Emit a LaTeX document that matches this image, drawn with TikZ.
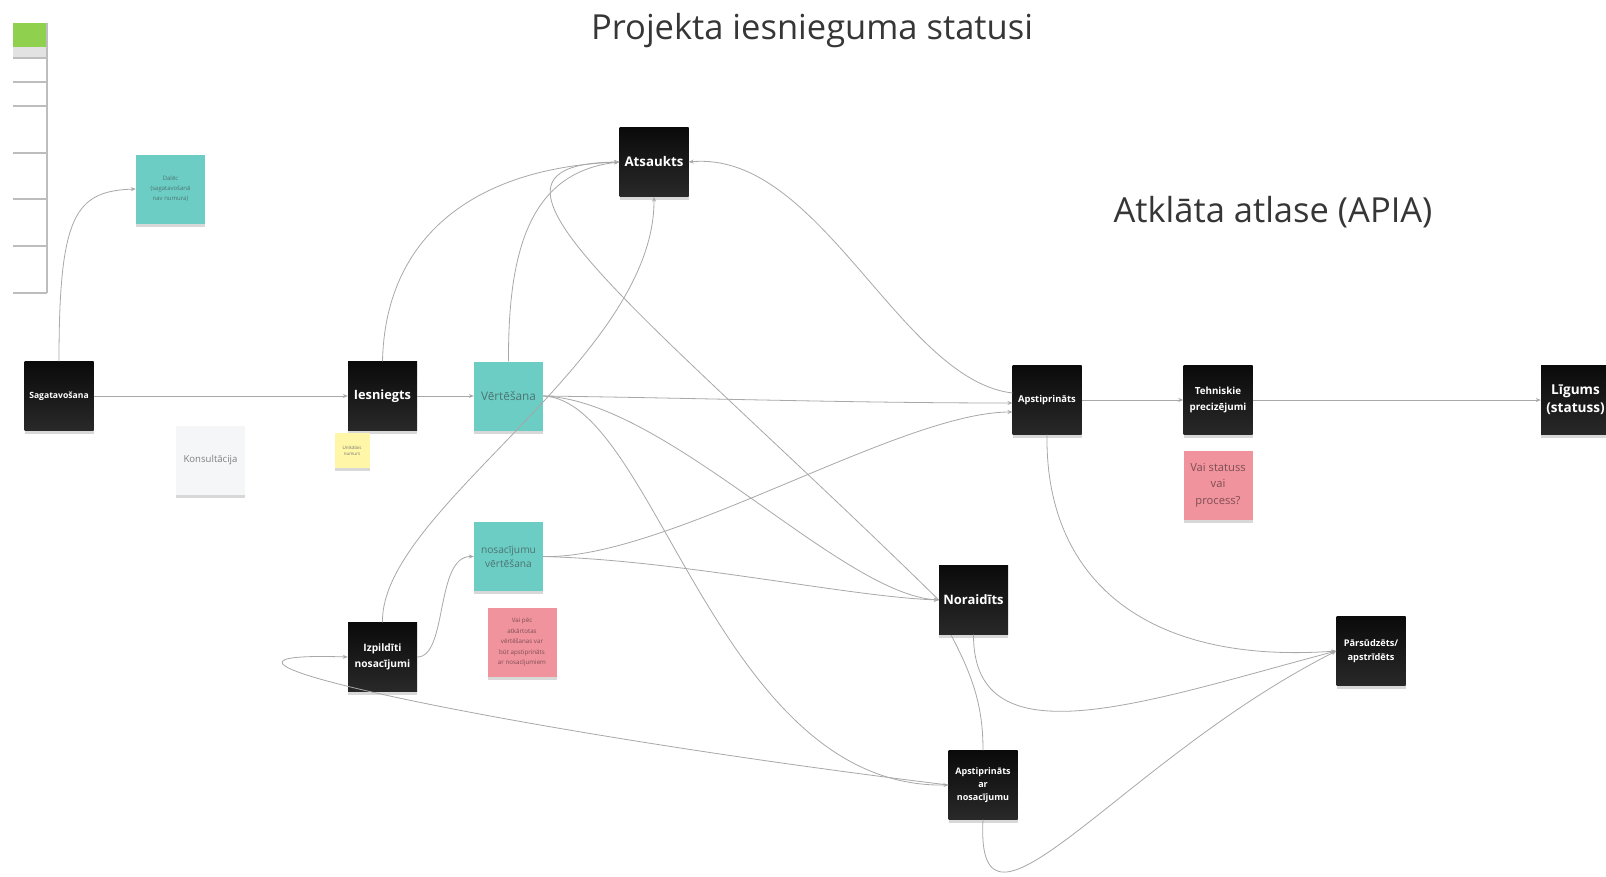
\documentclass[tikz,border=0pt]{standalone}
\usepackage{fontspec}
\setmainfont{Open Sans}
\usetikzlibrary{arrows.meta,shadows}
\definecolor{stblack}{HTML}{111111}
\definecolor{stteal}{HTML}{6CCDC4}
\definecolor{stpink}{HTML}{F0939D}
\definecolor{styellow}{HTML}{FFF6A8}
\definecolor{stwhite}{HTML}{F5F6F8}
\definecolor{linegray}{HTML}{A8A8A8}
\definecolor{tealtext}{HTML}{4E7473}
\definecolor{pinktext}{HTML}{7E4E55}
\definecolor{titlegray}{HTML}{363636}
\definecolor{legendgreen}{HTML}{8FD14F}
\definecolor{legendgray}{HTML}{E2E2E2}
\definecolor{legendline}{HTML}{BDBDBD}
\newcommand\myfs[2]{\fontsize{#1}{#2}\selectfont}
\tikzset{
  sticky/.style={minimum width=69pt, minimum height=69pt, inner sep=2pt, align=center,
    drop shadow={shadow xshift=0pt, shadow yshift=-3pt, opacity=0.3}},
  blk/.style={sticky, top color=black!96, bottom color=black!84, text=white},
  tealnote/.style={sticky, fill=stteal, text=tealtext},
  pinknote/.style={sticky, fill=stpink, text=pinktext},
  conn/.style={draw=linegray, line width=0.8pt},
  arr/.style={conn, -{Stealth[length=5pt,width=4pt]}},
  titletext/.style={text=titlegray, inner sep=0pt},
}
\begin{document}
\begin{tikzpicture}[x=1pt,y=-1pt]
\useasboundingbox (0,0) rectangle (1606,876);
\fill[white] (0,0) rectangle (1606,876);
% legend
\fill[legendgreen] (13,23) rectangle (47,47);
\fill[legendgray] (13,47) rectangle (47,58);
\draw[legendline, line width=1.6pt] (47,23) -- (47,293);
\foreach \yy in {58,82,106,153,199,246,293} \draw[legendline, line width=1.4pt] (13,\yy) -- (47,\yy);
% titles
\node[titletext, font=\myfs{34.5}{40}] (title) at (812,31) {Projekta iesnieguma statusi};
\node[titletext, font=\myfs{34.5}{40}] (atkl) at (1273,212) {Atklāta atlase (APIA)};
% nodes
\node[blk, font=\myfs{8.6}{10}\bfseries] (sag) at (59,396) {Sagatavošana};
\node[tealnote, font=\myfs{6}{10}] (dal) at (170.5,189) {Dalēc\\(sagatavošanā\\nav numura)};
\node[sticky, fill=stwhite, text=black!50, font=\myfs{9.6}{12}] (kons) at (210.5,460) {Konsultācija};
\node[blk, font=\myfs{12.8}{15}\bfseries] (ies) at (382.5,396) {Iesniegts};
\node[sticky, fill=styellow, minimum width=35pt, minimum height=35pt, inner sep=1pt, text=black!55, font=\myfs{4.5}{6}] (uni) at (352,450.5) {Unikālais\\numurs};
\node[tealnote, font=\myfs{11.8}{14}] (vert) at (508.5,396) {Vērtēšana};
\node[blk, font=\myfs{13.3}{16}\bfseries] (ats) at (654,162) {Atsaukts};
\node[tealnote, font=\myfs{10.2}{14.3}] (nosv) at (508.5,556.5) {nosacījumu\\vērtēšana};
\node[pinknote, font=\myfs{6.2}{10.5}] (vaipec) at (522,642) {Vai pēc\\atkārtotas\\vērtēšanas var\\būt apstiprināts\\ar nosacījumiem};
\node[blk, font=\myfs{10.2}{15.4}\bfseries] (izp) at (382.5,657) {Izpildīti\\nosacījumi};
\node[blk, font=\myfs{9.4}{12}\bfseries] (apst) at (1047,400) {Apstiprināts};
\node[blk, font=\myfs{9.8}{15.4}\bfseries] (teh) at (1218,400) {Tehniskie\\precizējumi};
\node[pinknote, font=\myfs{11.2}{16.4}] (vaistat) at (1218,485) {Vai statuss\\vai\\process?};
\node[blk, font=\myfs{13.6}{18.4}\bfseries] (lig) at (1575.5,400) {Līgums\\(statuss)};
\node[blk, font=\myfs{13}{16}\bfseries] (nor) at (973.5,600) {Noraidīts};
\node[blk, font=\myfs{9.2}{14.3}\bfseries] (pars) at (1371,651) {Pārsūdzēts/\\apstrīdēts};
\node[blk, font=\myfs{9}{13.3}\bfseries] (apnos) at (983,785) {Apstiprināts\\ar\\nosacījumu};
% helper coordinates
\coordinate (apin1) at (1012.5,403);
\coordinate (apin2) at (1012.5,412);
\coordinate (apout) at (1012.5,393);
\coordinate (norsw) at (951,635);
% connectors
\draw[arr] (sag.north) .. controls (59,215) and (75,191) .. (dal.west);
\draw[arr] (sag.east) -- (ies.west);
\draw[arr] (ies.east) -- (vert.west);
\draw[arr] (ies.north) .. controls (385,240) and (470,168) .. (ats.west);
\draw[arr] (vert.north) .. controls (508,250) and (530,172) .. (ats.west);
\draw[arr] (izp.north) .. controls (380,510) and (655,360) .. (ats.south);
\draw[arr] (apout) .. controls (900,380) and (820,150) .. (ats.east);
\draw[arr] (nor.west) .. controls (640,307) and (440,164) .. (ats.west);
\draw[arr] (vert.east) .. controls (700,398) and (850,403) .. (apin1);
\draw[arr] (vert.east) .. controls (666,400) and (840,594) .. (nor.west);
\draw[arr] (vert.east) .. controls (655,400) and (717,789) .. (apnos.west);
\draw[arr] (nosv.east) .. controls (666,560) and (900,412) .. (apin2);
\draw[arr] (nosv.east) .. controls (680,560) and (850,597) .. (nor.west);
\draw[arr] (izp.east) .. controls (448,657) and (435,556) .. (nosv.west);
\draw[arr] (apnos.west) .. controls (500,730) and (130,650) .. (izp.west);
\draw[arr] (apst.east) -- (teh.west);
\draw[arr] (teh.east) -- (lig.west);
\draw[arr] (apst.south) .. controls (1045,575) and (1140,665) .. (pars.west);
\draw[arr] (nor.south) .. controls (973,765) and (1150,700) .. (pars.west);
\draw[arr] (apnos.south) .. controls (975,970) and (1120,760) .. (pars.west);
\draw[conn] (norsw) .. controls (975,680) and (983,710) .. (apnos.north);
\end{tikzpicture}
\end{document}
